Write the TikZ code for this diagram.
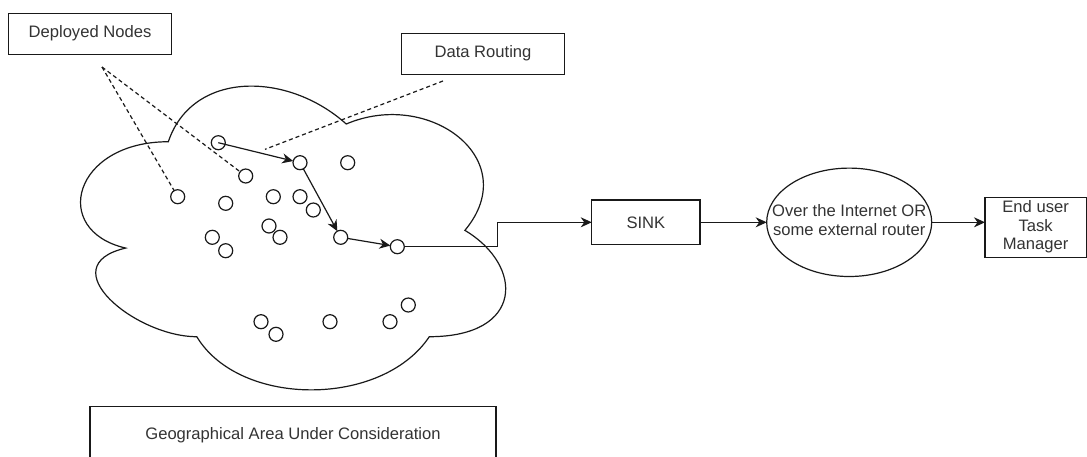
\documentclass[tikz,border=0pt]{standalone}
\usepackage{fontspec}
\setmainfont{Liberation Sans}
\usetikzlibrary{arrows.meta,shapes.geometric}
\newcommand\lbfont{\fontsize{16.6}{19.5}\selectfont}
\tikzset{
  lbl/.style={draw=black!90, line width=1.2pt, text=black!80, font=\lbfont, align=center, inner sep=0pt, outer sep=0pt},
  sensor/.style={circle, draw=black!90, line width=1.2pt, minimum size=14pt, inner sep=0pt, outer sep=0pt},
  flow/.style={draw=black!90, line width=1.2pt, -{Stealth[length=11pt,width=10pt,inset=3.5pt]}},
  callout/.style={draw=black!90, line width=1.2pt, dash pattern=on 4pt off 3pt},
  cloudline/.style={draw=black!90, line width=1.2pt}
}
\begin{document}
\begin{tikzpicture}[x=1pt,y=-1pt]
\path[use as bounding box] (0,0) rectangle (1087,456);
\clip (0,0) rectangle (1087,456);

% cloud (geographical area)
\begin{scope}[shift={(49.7pt,-53.1pt)}, x=474.5pt, y=-354.5pt]
\draw[cloudline] (0.25,0.25)
  .. controls (0.05,0.25) and (0,0.5) .. (0.16,0.55)
  .. controls (0,0.6) and (0.18,0.8) .. (0.31,0.8)
  .. controls (0.4,1) and (0.7,1) .. (0.8,0.8)
  .. controls (1,0.8) and (1,0.6) .. (0.875,0.5)
  .. controls (1,0.3) and (0.8,0.1) .. (0.625,0.2)
  .. controls (0.5,0.05) and (0.3,0.05) .. (0.25,0.25) -- cycle;
\end{scope}

% labels
\node[lbl, minimum width=163pt, minimum height=41pt] (dep) at (90,33.7) {Deployed Nodes};
\node[lbl, minimum width=163pt, minimum height=41pt] (route) at (483,53.7) {Data Routing};
\node[lbl, minimum width=406pt, minimum height=56.6pt] (geo) at (293,435) {Geographical Area Under Consideration};
\node[lbl, minimum width=108.3pt, minimum height=44.7pt] (sink) at (645.9,222.3) {SINK};
\node[lbl, ellipse, minimum width=165pt, minimum height=108.4pt] (ell) at (849.2,222.3)
  {\makebox[0pt]{\begin{tabular}{@{}c@{}}Over the Internet OR\\[-1pt]some external router\end{tabular}}};
\node[lbl, minimum width=101.2pt, minimum height=60pt] (eu) at (1035.6,227.3)
  {\raisebox{-4pt}{\begin{tabular}{@{}c@{}}End user\\[-1pt]Task\\[-1pt]Manager\end{tabular}}};

% sensor nodes
\node[sensor] (s1) at (218.3,142.7) {};
\node[sensor] (s2) at (300,162.7) {};
\node[sensor] (s3) at (347.7,162.7) {};
\node[sensor] (s4) at (245.7,176) {};
\node[sensor] (s5) at (177.7,196.7) {};
\node[sensor] (s6) at (225.7,203.3) {};
\node[sensor] (s7) at (273.3,196.7) {};
\node[sensor] (s8) at (300,196.7) {};
\node[sensor] (s9) at (313.3,210) {};
\node[sensor] (s10) at (269,226) {};
\node[sensor] (s11) at (280,237.3) {};
\node[sensor] (s12) at (212.3,237.3) {};
\node[sensor] (s13) at (225.7,250.7) {};
\node[sensor] (s14) at (340.7,237.3) {};
\node[sensor] (s15) at (397.3,246.7) {};
\node[sensor] (s16) at (261,321.7) {};
\node[sensor] (s17) at (276,334.3) {};
\node[sensor] (s18) at (330,321.7) {};
\node[sensor] (s19) at (390,321.7) {};
\node[sensor] (s20) at (408.3,305) {};

% callout lines
\coordinate (depfoot) at (102,67);
\coordinate (routefoot) at (443,81);
\coordinate (routeend) at (265,149.3);
\draw[callout] (depfoot) -- (s5);
\draw[callout] (depfoot) -- (s4);
\draw[callout] (routefoot) -- (routeend);

% data routing path
\draw[flow] (s1.center) -- (s2);
\draw[flow] (s2) -- (s14);
\draw[flow] (s14) -- (s15);

% to sink and beyond
\coordinate (jog) at (497.7,246.7);
\draw[flow] (s15) -- (jog) |- (sink);
\draw[flow] (sink) -- (ell);
\draw[flow] (ell) -- (ell -| eu.west);
\end{tikzpicture}
\end{document}
